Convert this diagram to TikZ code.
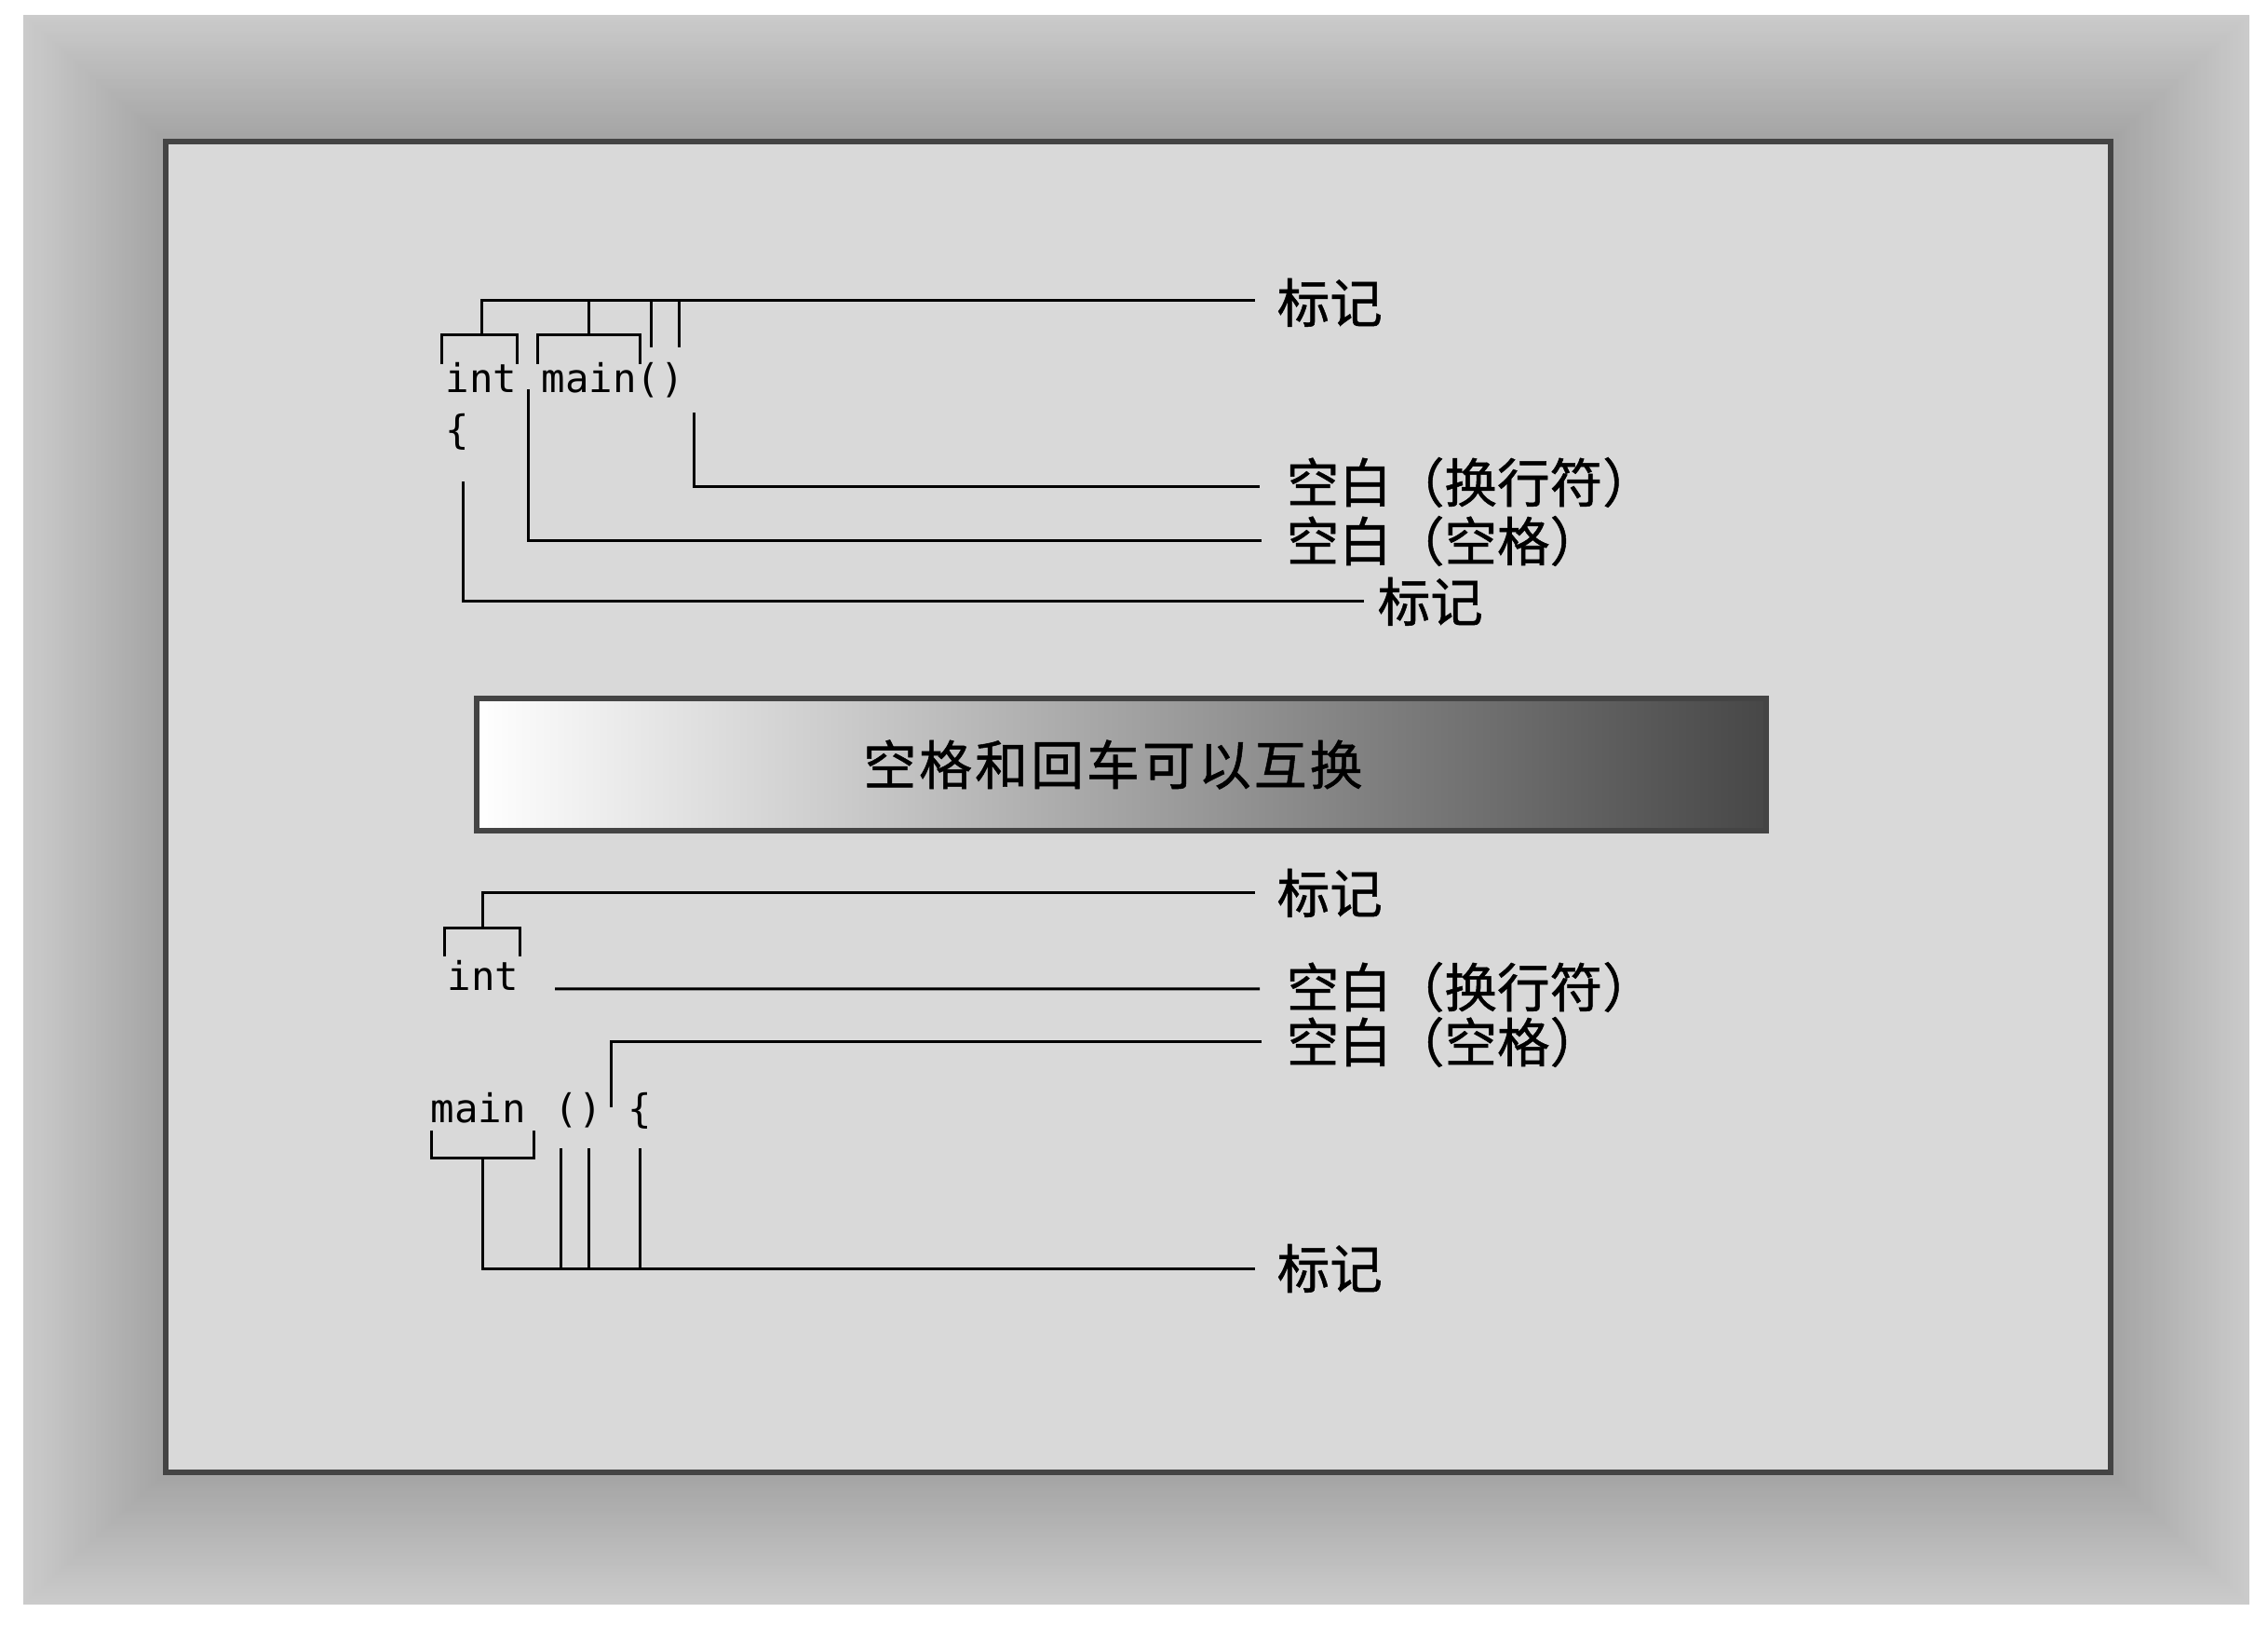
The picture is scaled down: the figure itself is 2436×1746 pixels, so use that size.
\documentclass[tikz,border=0pt]{standalone}
\usepackage{fontspec}
\setmonofont{DejaVu Sans Mono}
\newfontfamily\cjkfont{Noto Sans CJK SC}[FakeBold=0.9]
\newcommand\mycodefont{\ttfamily\fontsize{12.07pt}{14pt}\selectfont}
\newcommand\mylblfont{\cjkfont\fontsize{16.1pt}{19pt}\selectfont}
\newcommand\mybanfont{\cjkfont\fontsize{16.2pt}{19pt}\selectfont}
\definecolor{frameout}{HTML}{CBCBCB}
\definecolor{framein}{HTML}{A4A4A4}
\definecolor{panel}{HTML}{D9D9D9}
\definecolor{edge}{HTML}{444444}
\definecolor{bandark}{HTML}{474747}
\begin{document}
\begin{tikzpicture}[x=0.1mm,y=-0.1mm,
  code/.style={font=\mycodefont, inner sep=0pt, anchor=base west},
  lbl/.style={font=\mylblfont, inner sep=0pt, anchor=west},
  ln/.style={line width=0.3mm, black}]
\useasboundingbox (0,0) rectangle (2436,1746);
\fill[white] (0,0) rectangle (2436,1746);
% graded outer frame
\foreach \i in {0,...,48}{
  \pgfmathsetmacro\t{\i/48}
  \pgfmathtruncatemacro\p{100*(1-\t)}
  \fill[frameout!\p!framein] ({25+150*\t},{16+133*\t}) rectangle ({2416-146*\t},{1723-139*\t});
}
% panel
\draw[edge, line width=0.6mm, fill=panel] (178,152) rectangle (2267,1581);
% banner
\node[draw=edge, line width=0.6mm, left color=white, right color=bandark,
      minimum width=138.5mm, minimum height=14.2mm, inner sep=0pt,
      font=\mybanfont] (banner) at (1204.5,821)
  {\hspace*{-1.8mm}空\kern.3mm 格\kern.3mm 和\kern.3mm 回\kern.3mm 车\kern.3mm 可\kern.3mm 以\kern.3mm 互\kern.3mm 换};

% code, top
\node[code] (t1) at (478,422) {int};
\node[code] (t2) at (581,422) {main()};
\node[code] (t3) at (478,477) {\{};
% code, bottom
\node[code] (b1) at (480,1064) {int};
\node[code] (b2) at (462,1206) {main};
\node[code] (b3) at (595,1206) {()};
\node[code] (b4) at (674,1206) {\{};

% labels
\node[lbl] (A) at (1371,325) {标记};
\node[lbl] (B) at (1381,518) {空白（换行符）};
\node[lbl] (C) at (1381,581) {空白（空格）};
\node[lbl] (D) at (1479,646) {标记};
\node[lbl] (E) at (1371,959) {标记};
\node[lbl] (F) at (1381,1060) {空白（换行符）};
\node[lbl] (G) at (1381,1119) {空白（空格）};
\node[lbl] (H) at (1371,1362) {标记};

% top connectors
\draw[ln] (474,391) -- (474,360) -- (555,360) -- (555,391);
\draw[ln] (577,391) -- (577,360) -- (687,360) -- (687,391);
\draw[ln] (517,360) |- ([xshift=-2.3mm,yshift=0.2mm]A.west);
\draw[ln] (632,360) -- (632,323);
\draw[ln] (699,373) -- (699,323);
\draw[ln] (729,373) -- (729,323);
\draw[ln] (567,418) |- ([xshift=-2.6mm]C.west);
\draw[ln] (745,443) |- ([xshift=-2.8mm,yshift=-0.5mm]B.west);
\draw[ln] (497,517) |- ([xshift=-1.4mm]D.west);

% bottom connectors
\draw[ln] (477,1027) -- (477,997) -- (558,997) -- (558,1027);
\draw[ln] (518,997) |- ([xshift=-2.3mm]E.west);
\draw[ln] (596,1062) -- ([xshift=-2.8mm,yshift=-0.2mm]F.west);
\draw[ln] (656,1189) |- ([xshift=-2.6mm]G.west);
\draw[ln] (463,1214) -- (463,1244) -- (573,1244) -- (573,1214);
\draw[ln] (518,1244) |- ([xshift=-2.3mm,yshift=-0.1mm]H.west);
\draw[ln] (602,1233) -- (602,1361);
\draw[ln] (632,1233) -- (632,1361);
\draw[ln] (687,1233) -- (687,1361);
\end{tikzpicture}
\end{document}
